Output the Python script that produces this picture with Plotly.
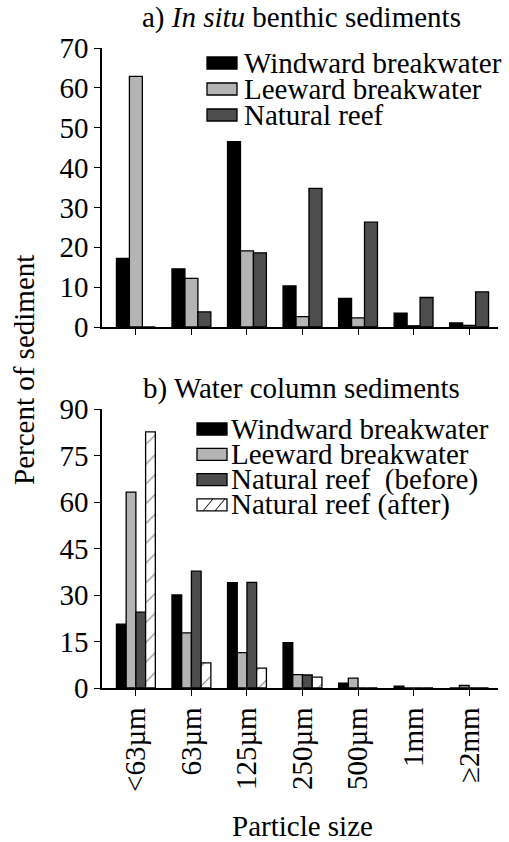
import plotly.graph_objects as go

# ---------------- data ----------------
categories = ["<63µm", "63µm", "125µm", "250µm", "500µm", "1mm", "≥2mm"]

benthic_windward = [17.2, 14.6, 46.5, 10.3, 7.2, 3.5, 1.0]
benthic_leeward = [62.9, 12.2, 19.1, 2.6, 2.3, 0.3, 0.4]
benthic_natural = [0, 3.8, 18.6, 34.8, 26.3, 7.4, 8.8]

water_windward = [20.6, 30.0, 34.0, 14.6, 1.6, 0.6, 0]
water_leeward = [63.2, 17.8, 11.4, 4.3, 3.2, 0, 0.8]
water_natural_before = [24.5, 37.7, 34.1, 4.2, 0, 0, 0]
water_natural_after = [82.6, 8.1, 6.4, 3.5, 0, 0, 0]

top_names = ["Windward breakwater", "Leeward breakwater", "Natural reef"]
bottom_names = ["Windward breakwater", "Leeward breakwater",
                "Natural reef\u00a0 (before)", "Natural reef (after)"]

top_ticks = [0, 10, 20, 30, 40, 50, 60, 70]
bottom_ticks = [0, 15, 30, 45, 60, 75, 90]

# ---------------- style ----------------
W, H = 509, 842
FONT = "Liberation Serif"
FS = 29
BLACK = "#000000"
LIGHT = "#b4b4b4"
DARK = "#4d4d4d"
WHITE = "#ffffff"


def px(x):
    return x / W


def py(y):
    return 1 - y / H


fig = go.Figure()

line = dict(color=BLACK, width=1.3)
top_colors = [BLACK, LIGHT, DARK]
for name, vals, col in zip(top_names, [benthic_windward, benthic_leeward, benthic_natural], top_colors):
    fig.add_trace(go.Bar(x=categories, y=vals, name=name, xaxis="x", yaxis="y",
                         marker=dict(color=col, line=line), showlegend=False))

bottom_series = [water_windward, water_leeward, water_natural_before, water_natural_after]
bottom_colors = [BLACK, LIGHT, DARK, WHITE]
for i, (name, vals, col) in enumerate(zip(bottom_names, bottom_series, bottom_colors)):
    marker = dict(color=col, line=line)
    if i == 3:
        marker["pattern"] = dict(shape="/", fgcolor=BLACK, bgcolor=WHITE, size=14, solidity=0.08)
    fig.add_trace(go.Bar(x=categories, y=vals, name=name, xaxis="x2", yaxis="y2",
                         marker=marker, showlegend=False))

xdom = [px(102), px(498)]
axis_common = dict(showline=True, linecolor=BLACK, linewidth=1.5, ticks="outside",
                   ticklen=6, tickwidth=1.3, tickcolor=BLACK, showgrid=False, zeroline=False,
                   automargin=False, tickfont=dict(family=FONT, size=FS, color=BLACK))

fig.update_layout(
    width=W, height=H, margin=dict(l=0, r=0, t=0, b=0, autoexpand=False),
    paper_bgcolor="white", plot_bgcolor="white",
    barmode="group", bargap=0.3, bargroupgap=0,
    font=dict(family=FONT, size=FS, color=BLACK),
    xaxis=dict(domain=xdom, anchor="y", type="category", range=[-0.61, 6.52],
               showticklabels=False, **axis_common),
    yaxis=dict(domain=[py(327), py(48)], anchor="x", range=[0, 70],
               tickvals=top_ticks, **axis_common),
    xaxis2=dict(domain=xdom, anchor="y2", type="category", range=[-0.61, 6.52],
                tickangle=-90, **axis_common),
    yaxis2=dict(domain=[py(688), py(409)], anchor="x2", range=[0, 90],
                tickvals=bottom_ticks, **axis_common),
)

annotations = [
    dict(text="a) <i>In situ</i> benthic sediments", x=px(301), y=py(18)),
    dict(text="b) Water column sediments", x=px(301), y=py(388)),
    dict(text="Particle size", x=px(302), y=py(826)),
    dict(text="Percent of sediment", x=px(24), y=py(370), textangle=-90),
]
for a in annotations:
    a.update(xref="paper", yref="paper", showarrow=False, xanchor="center", yanchor="middle",
             font=dict(family=FONT, size=FS, color=BLACK))
    fig.add_annotation(**a)

# ---------------- legends (drawn manually to match tight spacing) ----------------
shapes = []


def legend(names, colors, sw_x0, text_x, y0, dy, hatch_idx=None):
    for i, (n, c) in enumerate(zip(names, colors)):
        yc = y0 + i * dy
        shapes.append(dict(type="rect", xref="paper", yref="paper",
                           x0=px(sw_x0), x1=px(sw_x0 + 30), y0=py(yc + 6), y1=py(yc - 6),
                           fillcolor=c, line=dict(color=BLACK, width=1.3)))
        if hatch_idx is not None and i == hatch_idx:
            for k in (6, 18):
                shapes.append(dict(type="line", xref="paper", yref="paper",
                                   x0=px(sw_x0 + k), y0=py(yc + 6), x1=px(sw_x0 + k + 10), y1=py(yc - 6),
                                   line=dict(color=BLACK, width=1)))
        fig.add_annotation(text=n, xref="paper", yref="paper", x=px(text_x), y=py(yc),
                           xanchor="left", yanchor="middle", showarrow=False,
                           font=dict(family=FONT, size=FS, color=BLACK))


legend(top_names, top_colors, 207, 242, 63, 26)
legend(bottom_names, bottom_colors, 197, 229, 429, 25.3, hatch_idx=3)
fig.update_layout(shapes=shapes)

fig.write_html("out.html", config={"displayModeBar": False},
               post_script="document.body.style.margin='0';")
